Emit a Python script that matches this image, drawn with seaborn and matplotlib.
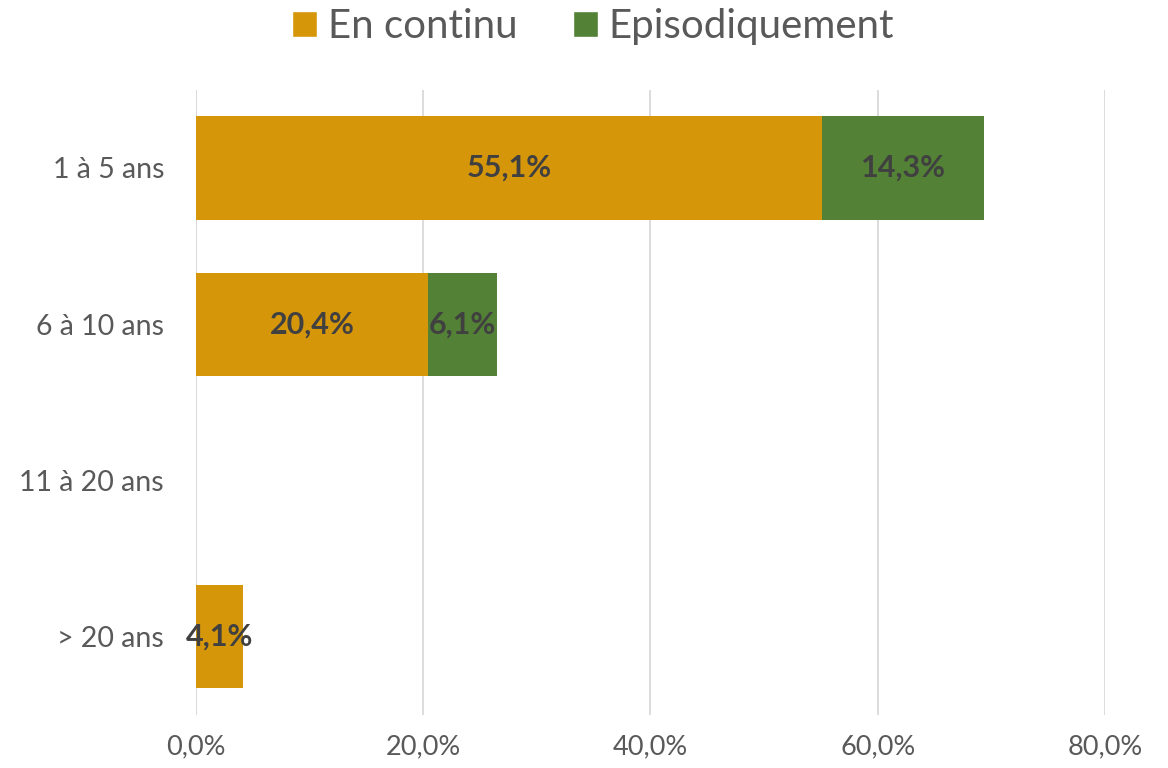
import matplotlib
matplotlib.use("Agg")
import matplotlib.pyplot as plt
import seaborn as sns
import pandas as pd
from matplotlib.patches import Patch
from matplotlib.ticker import FuncFormatter

categories = ["1 à 5 ans", "6 à 10 ans", "11 à 20 ans", "> 20 ans"]
en_continu = [55.1, 20.4, 0.0, 4.1]
episodiquement = [14.3, 6.1, 0.0, 0.0]
series_names = ["En continu", "Episodiquement"]
x_ticks = [0, 20, 40, 60, 80]

ORANGE = "#D6960A"
GREEN = "#538135"
GREY = "#595959"
DARK = "#404040"

sns.set_theme(style="white")
plt.rcParams["font.family"] = ["Lato", "DejaVu Sans"]

df = pd.DataFrame({
    "cat": categories,
    "continu": en_continu,
    "total": [a + b for a, b in zip(en_continu, episodiquement)],
})

fig = plt.figure(figsize=(11.68, 7.68), dpi=100)
ax = fig.add_axes([0.1678, 0.069, 0.946 - 0.1678, 0.883 - 0.069])

sns.barplot(data=df, x="total", y="cat", color=GREEN, saturation=1,
            width=0.66, linewidth=0, ax=ax, zorder=2)
sns.barplot(data=df, x="continu", y="cat", color=ORANGE, saturation=1,
            width=0.66, linewidth=0, ax=ax, zorder=3)

for i, (c, e) in enumerate(zip(en_continu, episodiquement)):
    if c > 0:
        ax.text(c / 2, i, f"{c:.1f}%".replace(".", ","), ha="center", va="center",
                fontsize=22, fontweight="bold", color=DARK, zorder=5)
    if e > 0:
        ax.text(c + e / 2, i, f"{e:.1f}%".replace(".", ","), ha="center", va="center",
                fontsize=22, fontweight="bold", color=DARK, zorder=5)

ax.set_xlim(0, 80)
ax.set_ylim(3.5, -0.5)
ax.set_xticks(x_ticks)
ax.xaxis.set_major_formatter(FuncFormatter(lambda v, p: f"{v:.1f}%".replace(".", ",")))
ax.grid(axis="x", color="#D9D9D9", linewidth=1.3, zorder=0)
ax.set_axisbelow(True)
for s in ax.spines.values():
    s.set_visible(False)
ax.axvline(0, color="#D9D9D9", linewidth=1.3, zorder=1)
ax.set_xlabel("")
ax.set_ylabel("")
ax.tick_params(axis="x", labelsize=19.5, colors=GREY, pad=14, length=0)
ax.tick_params(axis="y", labelsize=20.5, colors=GREY, pad=23, length=0)

handles = [Patch(facecolor=ORANGE, label=series_names[0]),
           Patch(facecolor=GREEN, label=series_names[1])]
leg = fig.legend(handles=handles, loc="center", bbox_to_anchor=(0.508, 0.965), ncol=2,
                 frameon=False, fontsize=29, handlelength=0.62, handleheight=0.62,
                 handletextpad=0.27, columnspacing=1.37)
for t in leg.get_texts():
    t.set_color(GREY)

fig.savefig("out.png", dpi=100)
